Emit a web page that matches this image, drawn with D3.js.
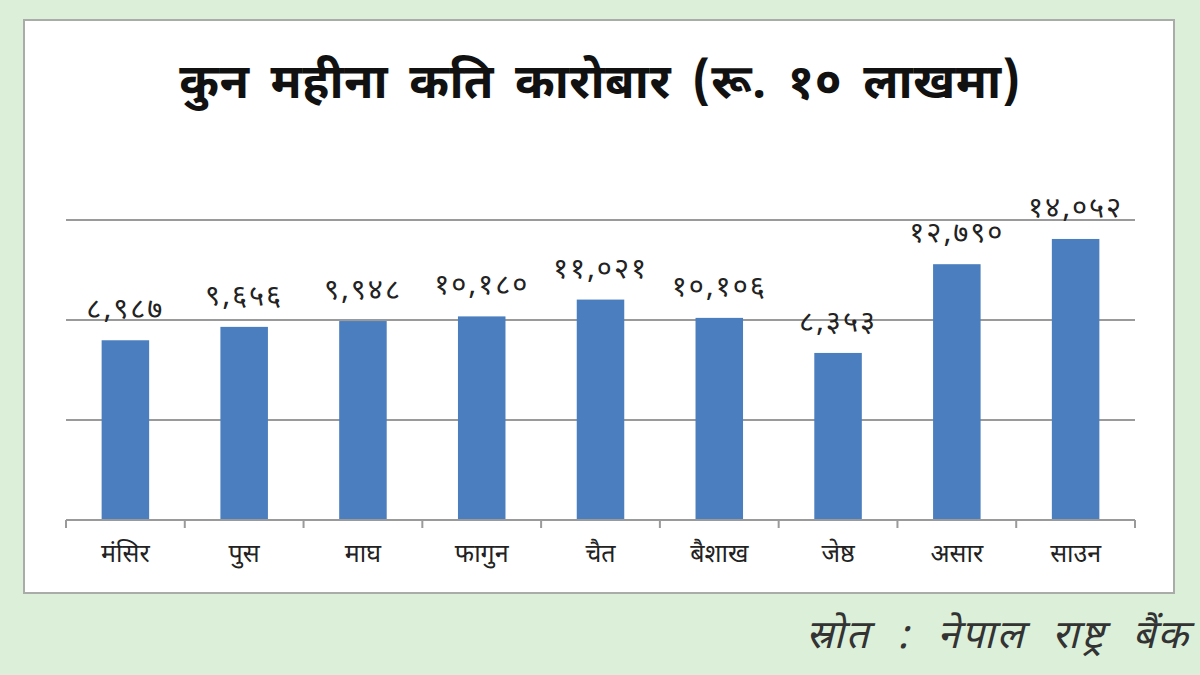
<!DOCTYPE html>
<html><head><meta charset="utf-8">
<script src="https://cdn.jsdelivr.net/npm/d3@7"></script>
<style>
html,body{margin:0;padding:0;background:#dcefd9;}
svg{display:block;}
</style></head>
<body>
<svg id="c" width="1200" height="675"></svg>
<script>
const months = ["मंसिर","पुस","माघ","फागुन","चैत","बैशाख","जेष्ठ","असार","साउन"];
const values = [8987, 9656, 9948, 10180, 11021, 10106, 8353, 12790, 14052];
const gridTicks = [0, 5000, 10000, 15000];
const titleText = "कुन महीना कति कारोबार (रू. १० लाखमा)";
const sourceText = "स्रोत : नेपाल राष्ट्र बैंक";

const devDigits = "०१२३४५६७८९";
const toDev = n => d3.format(",")(n).replace(/[0-9]/g, d => devDigits[+d]);

const svg = d3.select("#c");
const font = "'Noto Sans Devanagari','Lohit Devanagari','Mukta','Noto Sans',sans-serif";

svg.append("rect").attr("width",1200).attr("height",675).attr("fill","#dcefd9");
svg.append("rect").attr("x",24).attr("y",20).attr("width",1150).attr("height",573)
  .attr("fill","#ffffff").attr("stroke","#a9aca9").attr("stroke-width",2);

const x = d3.scaleBand().domain(months).range([66,1135]).paddingInner(0.6).paddingOuter(0.3);
const y = d3.scaleLinear().domain([0,15000]).range([520,220]);

// gridlines
svg.append("g").selectAll("line").data(gridTicks.slice(1)).join("line")
  .attr("x1",66).attr("x2",1135)
  .attr("y1",d=>y(d)).attr("y2",d=>y(d))
  .attr("stroke","#9a9a9a").attr("stroke-width",2);

// bars
svg.append("g").selectAll("rect").data(values).join("rect")
  .attr("x",(d,i)=>x(months[i])).attr("width",x.bandwidth())
  .attr("y",d=>y(d)).attr("height",d=>y(0)-y(d))
  .attr("fill","#4a7ebf");

// x axis
const boundaries = d3.range(months.length+1).map(i => 66 + i*(1135-66)/months.length);
const ax = svg.append("g");
ax.append("line").attr("x1",66).attr("x2",1135).attr("y1",y(0)).attr("y2",y(0))
  .attr("stroke","#9a9a9a").attr("stroke-width",2);
ax.selectAll("line.t").data(boundaries).join("line").attr("class","t")
  .attr("x1",d=>d).attr("x2",d=>d).attr("y1",y(0)).attr("y2",y(0)+8)
  .attr("stroke","#9a9a9a").attr("stroke-width",2);
ax.selectAll("text").data(months).join("text")
  .attr("x",d=>x(d)+x.bandwidth()/2).attr("y",562)
  .attr("text-anchor","middle").attr("font-family",font).attr("font-size",25)
  .attr("fill","#222").text(d=>d);

// value labels
svg.append("g").selectAll("text").data(values).join("text")
  .attr("x",(d,i)=>x(months[i])+x.bandwidth()/2).attr("y",d=>y(d)-22)
  .attr("text-anchor","middle").attr("font-family",font).attr("font-size",29)
  .attr("letter-spacing",2)
  .attr("fill","#222").text(d=>toDev(d));

// title
svg.append("text").attr("x",600).attr("y",98).attr("text-anchor","middle")
  .attr("font-family",font).attr("font-size",48).attr("font-weight","bold")
  .attr("word-spacing",8).attr("letter-spacing",0.5)
  .attr("fill","#111").text(titleText);

// source
svg.append("text").attr("x",1190).attr("y",648).attr("text-anchor","end")
  .attr("font-family",font).attr("font-size",40).attr("font-style","italic")
  .attr("word-spacing",14).attr("letter-spacing",2)
  .attr("fill","#333").text(sourceText);
</script>
</body></html>
